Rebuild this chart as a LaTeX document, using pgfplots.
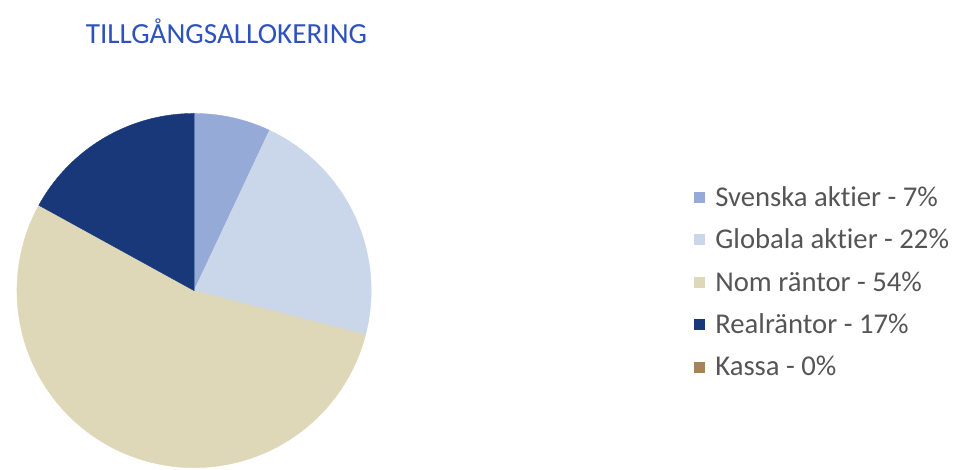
\documentclass[border=0pt]{standalone}
\usepackage{fontspec}
\setmainfont{Carlito}[Ligatures=NoCommon]
\usepackage{pgfplots}
\pgfplotsset{compat=1.18}

\definecolor{svenska}{RGB}{150,170,215}
\definecolor{globala}{RGB}{202,214,234}
\definecolor{nom}{RGB}{222,215,184}
\definecolor{real}{RGB}{24,56,122}
\definecolor{kassa}{RGB}{166,132,88}
\definecolor{titleblue}{RGB}{45,82,190}
\definecolor{legtext}{RGB}{85,85,85}

% shares in percent: 7, 22, 54, 17, 0 -> clockwise from 12 o'clock, 3.6 deg per percent
\begin{document}
\begin{tikzpicture}
\begin{axis}[
  x=0.75pt, y=0.75pt,
  xmin=0, xmax=953, ymin=0, ymax=472,
  hide axis, clip=false,
  samples=90,
  legend cell align=left,
  legend image code/.code={\fill[#1, draw=none] (0pt,-4.2pt) rectangle (8.4pt,4.2pt);
    \path[draw=none, fill=none] (0pt,0pt) -- (13.2pt,0pt);},
  legend style={draw=none, fill=none, at={(axis cs:697,289)}, anchor=north west,
    font=\fontsize{21.6}{23}\selectfont\color{legtext}, row sep=9.6pt,
    inner sep=0pt, nodes={inner sep=3pt, xshift=4pt}},
]
\path (axis cs:0,0) rectangle (axis cs:953,472);
\addplot[fill=svenska, draw=svenska, line width=0.3pt, domain=64.8:90]
  ({195+178*cos(x)},{180+178*sin(x)}) -- (axis cs:195,180) -- cycle;
\addlegendentry{Svenska aktier - 7\%}
\addplot[fill=globala, draw=globala, line width=0.3pt, domain=-14.4:64.8]
  ({195+178*cos(x)},{180+178*sin(x)}) -- (axis cs:195,180) -- cycle;
\addlegendentry{Globala aktier - 22\%}
\addplot[fill=nom, draw=nom, line width=0.3pt, domain=-208.8:-14.4]
  ({195+178*cos(x)},{180+178*sin(x)}) -- (axis cs:195,180) -- cycle;
\addlegendentry{Nom räntor - 54\%}
\addplot[fill=real, draw=real, line width=0.3pt, domain=-270:-208.8]
  ({195+178*cos(x)},{180+178*sin(x)}) -- (axis cs:195,180) -- cycle;
\addlegendentry{Realräntor - 17\%}
\addlegendimage{fill=kassa, draw=none}
\addlegendentry{Kassa - 0\%}
\node[anchor=west, inner sep=0pt, text=titleblue, font=\fontsize{22}{25}\selectfont]
  at (axis cs:86,441) {TILLGÅNGSALLOKERING};
\end{axis}
\end{tikzpicture}
\end{document}
